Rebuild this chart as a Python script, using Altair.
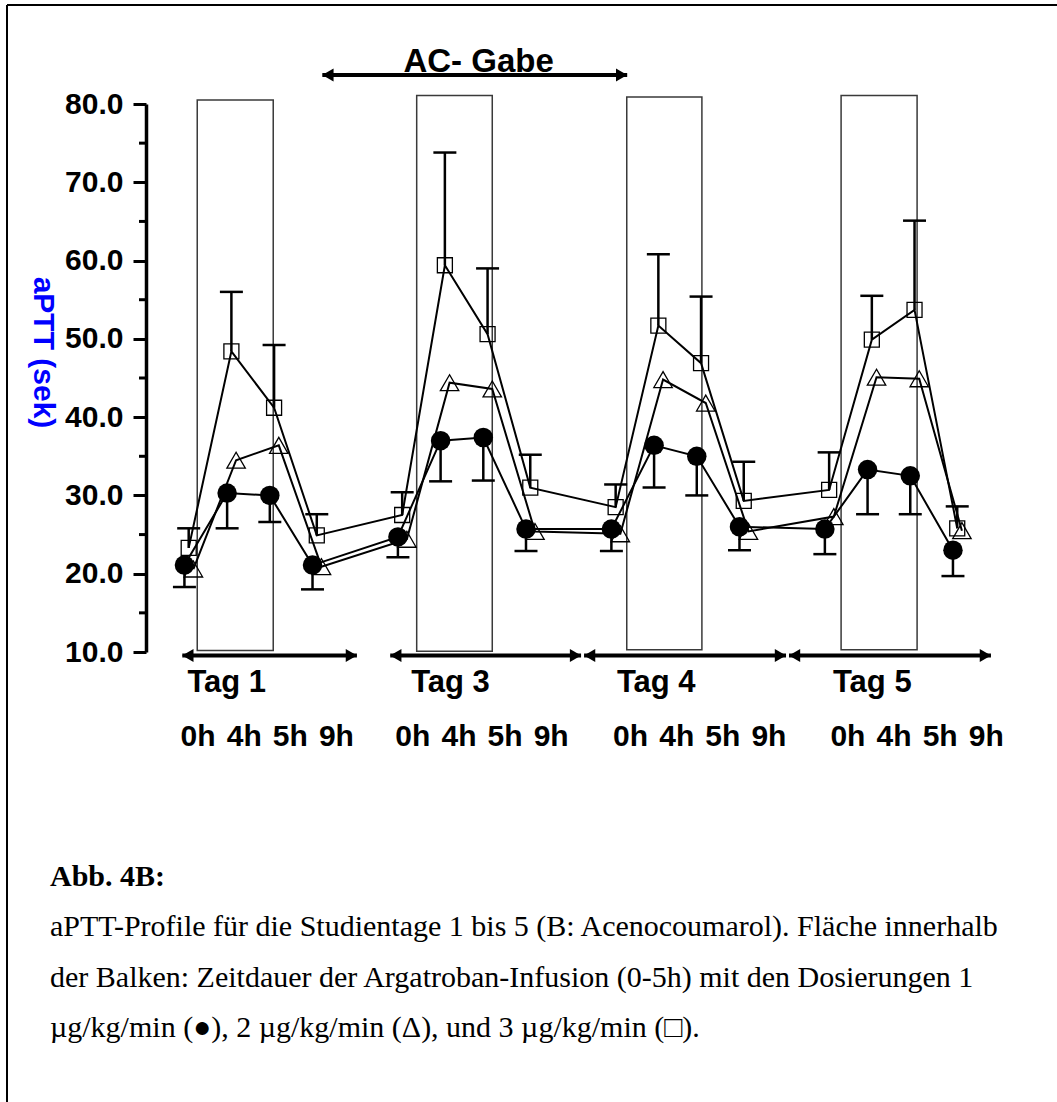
import altair as alt
import pandas as pd

# ---- measured aPTT values (seconds) ----
times = ["0h", "4h", "5h", "9h"]
days = ["Tag 1", "Tag 3", "Tag 4", "Tag 5"]
# sampling slots along the x axis (one empty slot between study days)
slot = [0, 1, 2, 3, 5, 6, 7, 8, 10, 11, 12, 13, 15, 16, 17, 18]

# 1 µg/kg/min (filled circles), mean and mean - SD
dose1_mean = [21.1, 30.3, 30.0, 21.1, 24.7, 37.0, 37.4, 25.7,
              25.7, 36.4, 35.0, 26.0, 25.7, 33.3, 32.5, 23.0]
dose1_low = [18.3, 25.8, 26.6, 18.0, 22.1, 31.8, 31.9, 22.9,
             22.9, 31.0, 30.0, 23.0, 22.5, 27.6, 27.6, 19.7]
# 2 µg/kg/min (open triangles), mean
dose2_mean = [20.6, 34.5, 36.4, 20.9, 24.4, 44.4, 43.6, 25.4,
              25.1, 44.8, 41.8, 25.4, 27.3, 45.1, 44.9, 25.5]
# 3 µg/kg/min (open squares), mean and mean + SD
dose3_mean = [23.3, 48.4, 41.2, 24.9, 27.5, 59.4, 50.6, 31.0,
              28.5, 51.7, 46.9, 29.3, 30.7, 49.9, 53.7, 25.8]
dose3_high = [25.8, 56.0, 49.2, 27.6, 30.4, 73.8, 59.0, 35.2,
              31.4, 60.8, 55.4, 34.3, 35.5, 55.5, 65.1, 28.6]

# Argatroban infusion windows (0-5h), in slot units
infusion_start = [0.30, 5.44, 10.36, 15.38]
infusion_end = [2.08, 7.21, 12.12, 17.16]
infusion_top = [80.5, 81.1, 80.9, 81.1]
infusion_bottom = [10.2, 10.1, 10.3, 10.3]

# study-day brackets below the axis and the AC administration bracket above
day_arrow_start = [-0.05, 4.82, 9.36, 14.16]
day_arrow_end = [4.04, 9.29, 14.09, 18.89]
ac_arrow = [3.23, 10.37]

caption_title = "Abb. 4B:"
caption_lines = [
    "aPTT-Profile für die Studientage 1 bis 5 (B: Acenocoumarol). Fläche innerhalb",
    "der Balken: Zeitdauer der Argatroban-Infusion (0-5h) mit den Dosierungen 1",
    "µg/kg/min (●), 2 µg/kg/min (Δ), und 3 µg/kg/min (□).",
]

# ---- layout ----
PLOT_W, PLOT_H = 871, 548
PAD_L, PAD_T = 146, 104
SANS = "Liberation Sans"
SERIF = "Liberation Serif"

x_scale = alt.Scale(domain=[-0.9, 19.5], nice=False, zero=False)
y_scale = alt.Scale(domain=[10, 80], nice=False, zero=False)

y_axis = alt.Axis(
    values=[10, 20, 30, 40, 50, 60, 70, 80], format=".1f",
    labelFont=SANS, labelFontWeight="bold", labelFontSize=30, labelColor="black",
    labelPadding=10, labelBaseline="middle",
    tickSize=13, tickWidth=3, tickColor="black",
    domainWidth=3.5, domainColor="black", grid=False,
    title="aPTT (sek)", titleColor="#0000ff", titleFont=SANS, titleFontWeight="bold",
    titleFontSize=30, titleAngle=90, titleX=-104, titleY=248,
    titleAlign="center", titleBaseline="middle",
)

# small horizontal offsets so the three dose groups do not hide each other
offsets = {"d1": 0.0, "d2": 0.21, "d3": 0.10}

rows = []
for i, s in enumerate(slot):
    rows.append({"x": s + offsets["d1"], "aptt": dose1_mean[i], "cap": dose1_low[i], "dose": "d1"})
    rows.append({"x": s + offsets["d2"], "aptt": dose2_mean[i], "cap": None, "dose": "d2"})
    rows.append({"x": s + offsets["d3"], "aptt": dose3_mean[i], "cap": dose3_high[i], "dose": "d3"})
pts = pd.DataFrame(rows)

# every layer shares the same y scale and the same left axis definition
X = lambda f: alt.X(f, type="quantitative", scale=x_scale, axis=None)
Y = lambda f: alt.Y(f, type="quantitative", scale=y_scale, axis=y_axis)

bars_df = pd.DataFrame({"x0": infusion_start, "x1": infusion_end,
                        "y0": infusion_bottom, "y1": infusion_top})
bars = alt.Chart(bars_df).mark_rect(fillOpacity=0, stroke="#3a3a3a", strokeWidth=1.5).encode(
    x=X("x0"), x2="x1", y=Y("y0"), y2="y1",
)

minor_df = pd.DataFrame({"v": [15, 25, 35, 45, 55, 65, 75]})
minor = alt.Chart(minor_df).mark_rule(color="black", strokeWidth=3).encode(
    y=Y("v"), x=alt.value(-7), x2=alt.value(0)
)

lines = alt.Chart(pts).mark_line(color="black", strokeWidth=2).encode(
    x=X("x"), y=Y("aptt"), detail="dose:N", order="x:Q"
)

err = pts[pts["cap"].notna()]
stems = alt.Chart(err).mark_rule(color="black", strokeWidth=2.5).encode(
    x=X("x"), y=Y("aptt"), y2="cap"
)
caps = alt.Chart(err).mark_tick(orient="horizontal", size=23, thickness=2.5,
                                color="black", opacity=1).encode(x=X("x"), y=Y("cap"))

circles = alt.Chart(pts[pts["dose"] == "d1"]).mark_point(
    shape="circle", filled=True, size=380, color="black", opacity=1
).encode(x=X("x"), y=Y("aptt"))
triangles = alt.Chart(pts[pts["dose"] == "d2"]).mark_point(
    shape="triangle-up", filled=False, size=340, color="black", strokeWidth=1.3, opacity=1
).encode(x=X("x"), y=Y("aptt"))
squares = alt.Chart(pts[pts["dose"] == "d3"]).mark_point(
    shape="square", filled=False, size=225, color="black", strokeWidth=1.3, opacity=1
).encode(x=X("x"), y=Y("aptt"))

# ---- brackets with arrow heads ----
DAY_Y, AC_Y = 9.55, 83.7
arrow_rows = [{"a": a, "b": b, "y": DAY_Y} for a, b in zip(day_arrow_start, day_arrow_end)]
arrow_rows.append({"a": ac_arrow[0], "b": ac_arrow[1], "y": AC_Y})
arrows_df = pd.DataFrame(arrow_rows)
shafts = alt.Chart(arrows_df).mark_rule(color="black", strokeWidth=4).encode(
    x=X("a"), x2="b", y=Y("y")
)
head_shift = 0.13
heads_l = alt.Chart(arrows_df.assign(hx=arrows_df["a"] + head_shift)).mark_point(
    shape="triangle-left", filled=True, size=170, color="black", opacity=1
).encode(x=X("hx"), y=Y("y"))
heads_r = alt.Chart(arrows_df.assign(hx=arrows_df["b"] - head_shift)).mark_point(
    shape="triangle-right", filled=True, size=170, color="black", opacity=1
).encode(x=X("hx"), y=Y("y"))

# ---- text labels ----
ac_label = alt.Chart(pd.DataFrame({"t": ["AC- Gabe"], "x": [6.89], "y": [85.4]})).mark_text(
    font=SANS, fontWeight="bold", fontSize=33, align="center", baseline="middle", color="black"
).encode(x=X("x"), y=Y("y"), text="t:N")

day_label_x = [0.07, 5.31, 10.13, 15.19]
day_labels = alt.Chart(pd.DataFrame({"t": days, "x": day_label_x, "y": [6.04] * 4})).mark_text(
    font=SANS, fontWeight="bold", fontSize=31, align="left", baseline="middle", color="black"
).encode(x=X("x"), y=Y("y"), text="t:N")

hour_group_center = [1.94, 6.97, 12.07, 17.16]
hour_step = 1.08
hour_rows = []
for c in hour_group_center:
    for k, t in enumerate(times):
        hour_rows.append({"t": t, "x": c + (k - 1.5) * hour_step, "y": -0.86})
hour_labels = alt.Chart(pd.DataFrame(hour_rows)).mark_text(
    font=SANS, fontWeight="bold", fontSize=30, align="center", baseline="middle", color="black"
).encode(x=X("x"), y=Y("y"), text="t:N")

# ---- figure frame and caption (page-level, in pixels from the plot origin) ----
one = pd.DataFrame({"k": [0]})
frame_top = alt.Chart(one).mark_rule(color="black", strokeWidth=2).encode(
    x=alt.value(7 - PAD_L), x2=alt.value(1057 - PAD_L), y=alt.value(5 - PAD_T)
)
frame_left = alt.Chart(one).mark_rule(color="black", strokeWidth=2).encode(
    x=alt.value(7 - PAD_L), y=alt.value(5 - PAD_T), y2=alt.value(1102 - PAD_T)
)
caption_layers = [
    alt.Chart(pd.DataFrame({"t": [caption_title]})).mark_text(
        font=SERIF, fontWeight="bold", fontSize=30, align="left", baseline="middle", color="black"
    ).encode(x=alt.value(50 - PAD_L), y=alt.value(877 - PAD_T), text="t:N")
]
for i, line in enumerate(caption_lines):
    caption_layers.append(
        alt.Chart(pd.DataFrame({"t": [line]})).mark_text(
            font=SERIF, fontSize=30, align="left", baseline="middle", color="black"
        ).encode(x=alt.value(50 - PAD_L), y=alt.value(927 - PAD_T + i * 50.5), text="t:N")
    )

chart = alt.layer(
    bars, minor, lines, stems, caps, circles, triangles, squares,
    shafts, heads_l, heads_r, ac_label, day_labels, hour_labels,
    frame_top, frame_left, *caption_layers,
).properties(
    width=PLOT_W, height=PLOT_H,
    autosize=alt.AutoSizeParams(type="none"),
    padding={"left": PAD_L, "top": PAD_T, "right": 1057 - PAD_L - PLOT_W,
             "bottom": 1102 - PAD_T - PLOT_H},
    background="white",
).configure_view(stroke=None)

chart.save("out.html", embed_options={"renderer": "svg", "actions": False})
